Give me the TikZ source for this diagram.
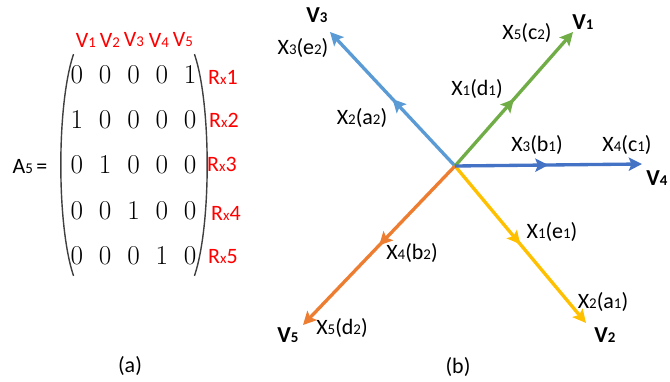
\documentclass[tikz,border=0pt]{standalone}
\usepackage{fontspec}
\newfontfamily\lblfont{Carlito}
\usetikzlibrary{arrows.meta,matrix,decorations.markings}
\definecolor{vecGreen}{HTML}{70AD47}
\definecolor{vecSky}{HTML}{5B9BD5}
\definecolor{vecBlue}{HTML}{4472C4}
\definecolor{vecGold}{HTML}{FFC000}
\definecolor{vecOrange}{HTML}{ED7D31}
\newcommand{\sm}[1]{{\fontsize{8.5}{9}\selectfont #1}}
\tikzset{
  vec/.style={draw=#1, line width=1.9pt,
        -{Stealth[length=7.5pt,width=7.5pt,inset=1.5pt]},
        postaction={decorate},
        decoration={markings, mark=at position 0.5 with
          {\arrow[color=#1]{Stealth[length=7.5pt,width=7.5pt,inset=1.5pt]}}}},
  lbl/.style={font=\lblfont\fontsize{12.5}{13}\selectfont, inner sep=0pt},
  vlbl/.style={font=\lblfont\bfseries\fontsize{13}{14}\selectfont, inner sep=0pt},
  rlbl/.style={lbl, text=red},
  paren/.style={draw=black!75, line width=0.8pt}
}

\begin{document}
\begin{tikzpicture}[x=0.02cm, y=-0.02cm]
\useasboundingbox (0,0) rectangle (670,382);

% (a) the matrix
\foreach \i/\x in {1/86,2/110,3/134,4/159,5/183}
  \node[rlbl] (h\i) at (\x,40) {V\sm{\i}};

\matrix (A5) [matrix of nodes, inner sep=0pt, column sep=0.266cm, row sep=0.1cm,
  nodes={font=\fontsize{15.5}{16}\selectfont, minimum width=0.3cm,
         minimum height=0.8cm, inner sep=0pt}] at (133.5,165) {
  0 & 0 & 0 & 0 & 1 \\
  1 & 0 & 0 & 0 & 0 \\
  0 & 1 & 0 & 0 & 0 \\
  0 & 0 & 1 & 0 & 0 \\
  0 & 0 & 0 & 1 & 0 \\
};
\draw[paren] ([xshift=0.09cm]A5.north west) .. controls +(-0.34cm,-1cm) and +(-0.34cm,1cm) .. ([xshift=0.09cm]A5.south west);
\draw[paren] ([xshift=-0.07cm]A5.north east) .. controls +(0.34cm,-1cm) and +(0.34cm,1cm) .. ([xshift=-0.07cm]A5.south east);

\node[lbl] (Alab) at (30,167) {A\sm{5}\,=};

\node[rlbl] (r1) at (223,77)  {R\sm{x}1};
\node[rlbl] (r2) at (224,120) {R\sm{x}2};
\node[rlbl] (r3) at (222,164) {R\sm{x}3};
\node[rlbl] (r4) at (226,213) {R\sm{x}4};
\node[rlbl] (r5) at (223,257) {R\sm{x}5};

\node[lbl] (capa) at (130,366) {(a)};

% (b) the star
\coordinate (O) at (455,166);
\coordinate (t1) at (573,32);
\coordinate (t2) at (586,323);
\coordinate (t3) at (330,32);
\coordinate (t4) at (642,164);
\coordinate (t5) at (303,325);

\draw[vec=vecSky] (O) -- (t3);
\draw[vec=vecGreen] (O) -- (t1);
\draw[vec=vecGold] (O) -- (t2);
\draw[vec=vecOrange] (O) -- (t5);
\draw[vec=vecBlue] (O) -- (t4);

\node[vlbl] (v1) at (583,22)  {V\sm{1}};
\node[vlbl] (v2) at (605,335) {V\sm{2}};
\node[vlbl] (v3) at (317,15)  {V\sm{3}};
\node[vlbl] (v4) at (657,178) {V\sm{4}};
\node[vlbl] (v5) at (288,335) {V\sm{5}};

\node[lbl] (x3e2) at (303,48)  {X\sm{3}(e\sm{2})};
\node[lbl] (x2a2) at (362,118) {X\sm{2}(a\sm{2})};
\node[lbl] (x5c2) at (527,33)  {X\sm{5}(c\sm{2})};
\node[lbl] (x1d1) at (477,89)  {X\sm{1}(d\sm{1})};
\node[lbl] (x3b1) at (537,145) {X\sm{3}(b\sm{1})};
\node[lbl] (x4c1) at (627,145) {X\sm{4}(c\sm{1})};
\node[lbl] (x1e1) at (552,232) {X\sm{1}(e\sm{1})};
\node[lbl] (x4b2) at (412,253) {X\sm{4}(b\sm{2})};
\node[lbl] (x2a1) at (603,302) {X\sm{2}(a\sm{1})};
\node[lbl] (x5d2) at (342,328) {X\sm{5}(d\sm{2})};

\node[lbl] (capb) at (458,367) {(b)};
\end{tikzpicture}
\end{document}
